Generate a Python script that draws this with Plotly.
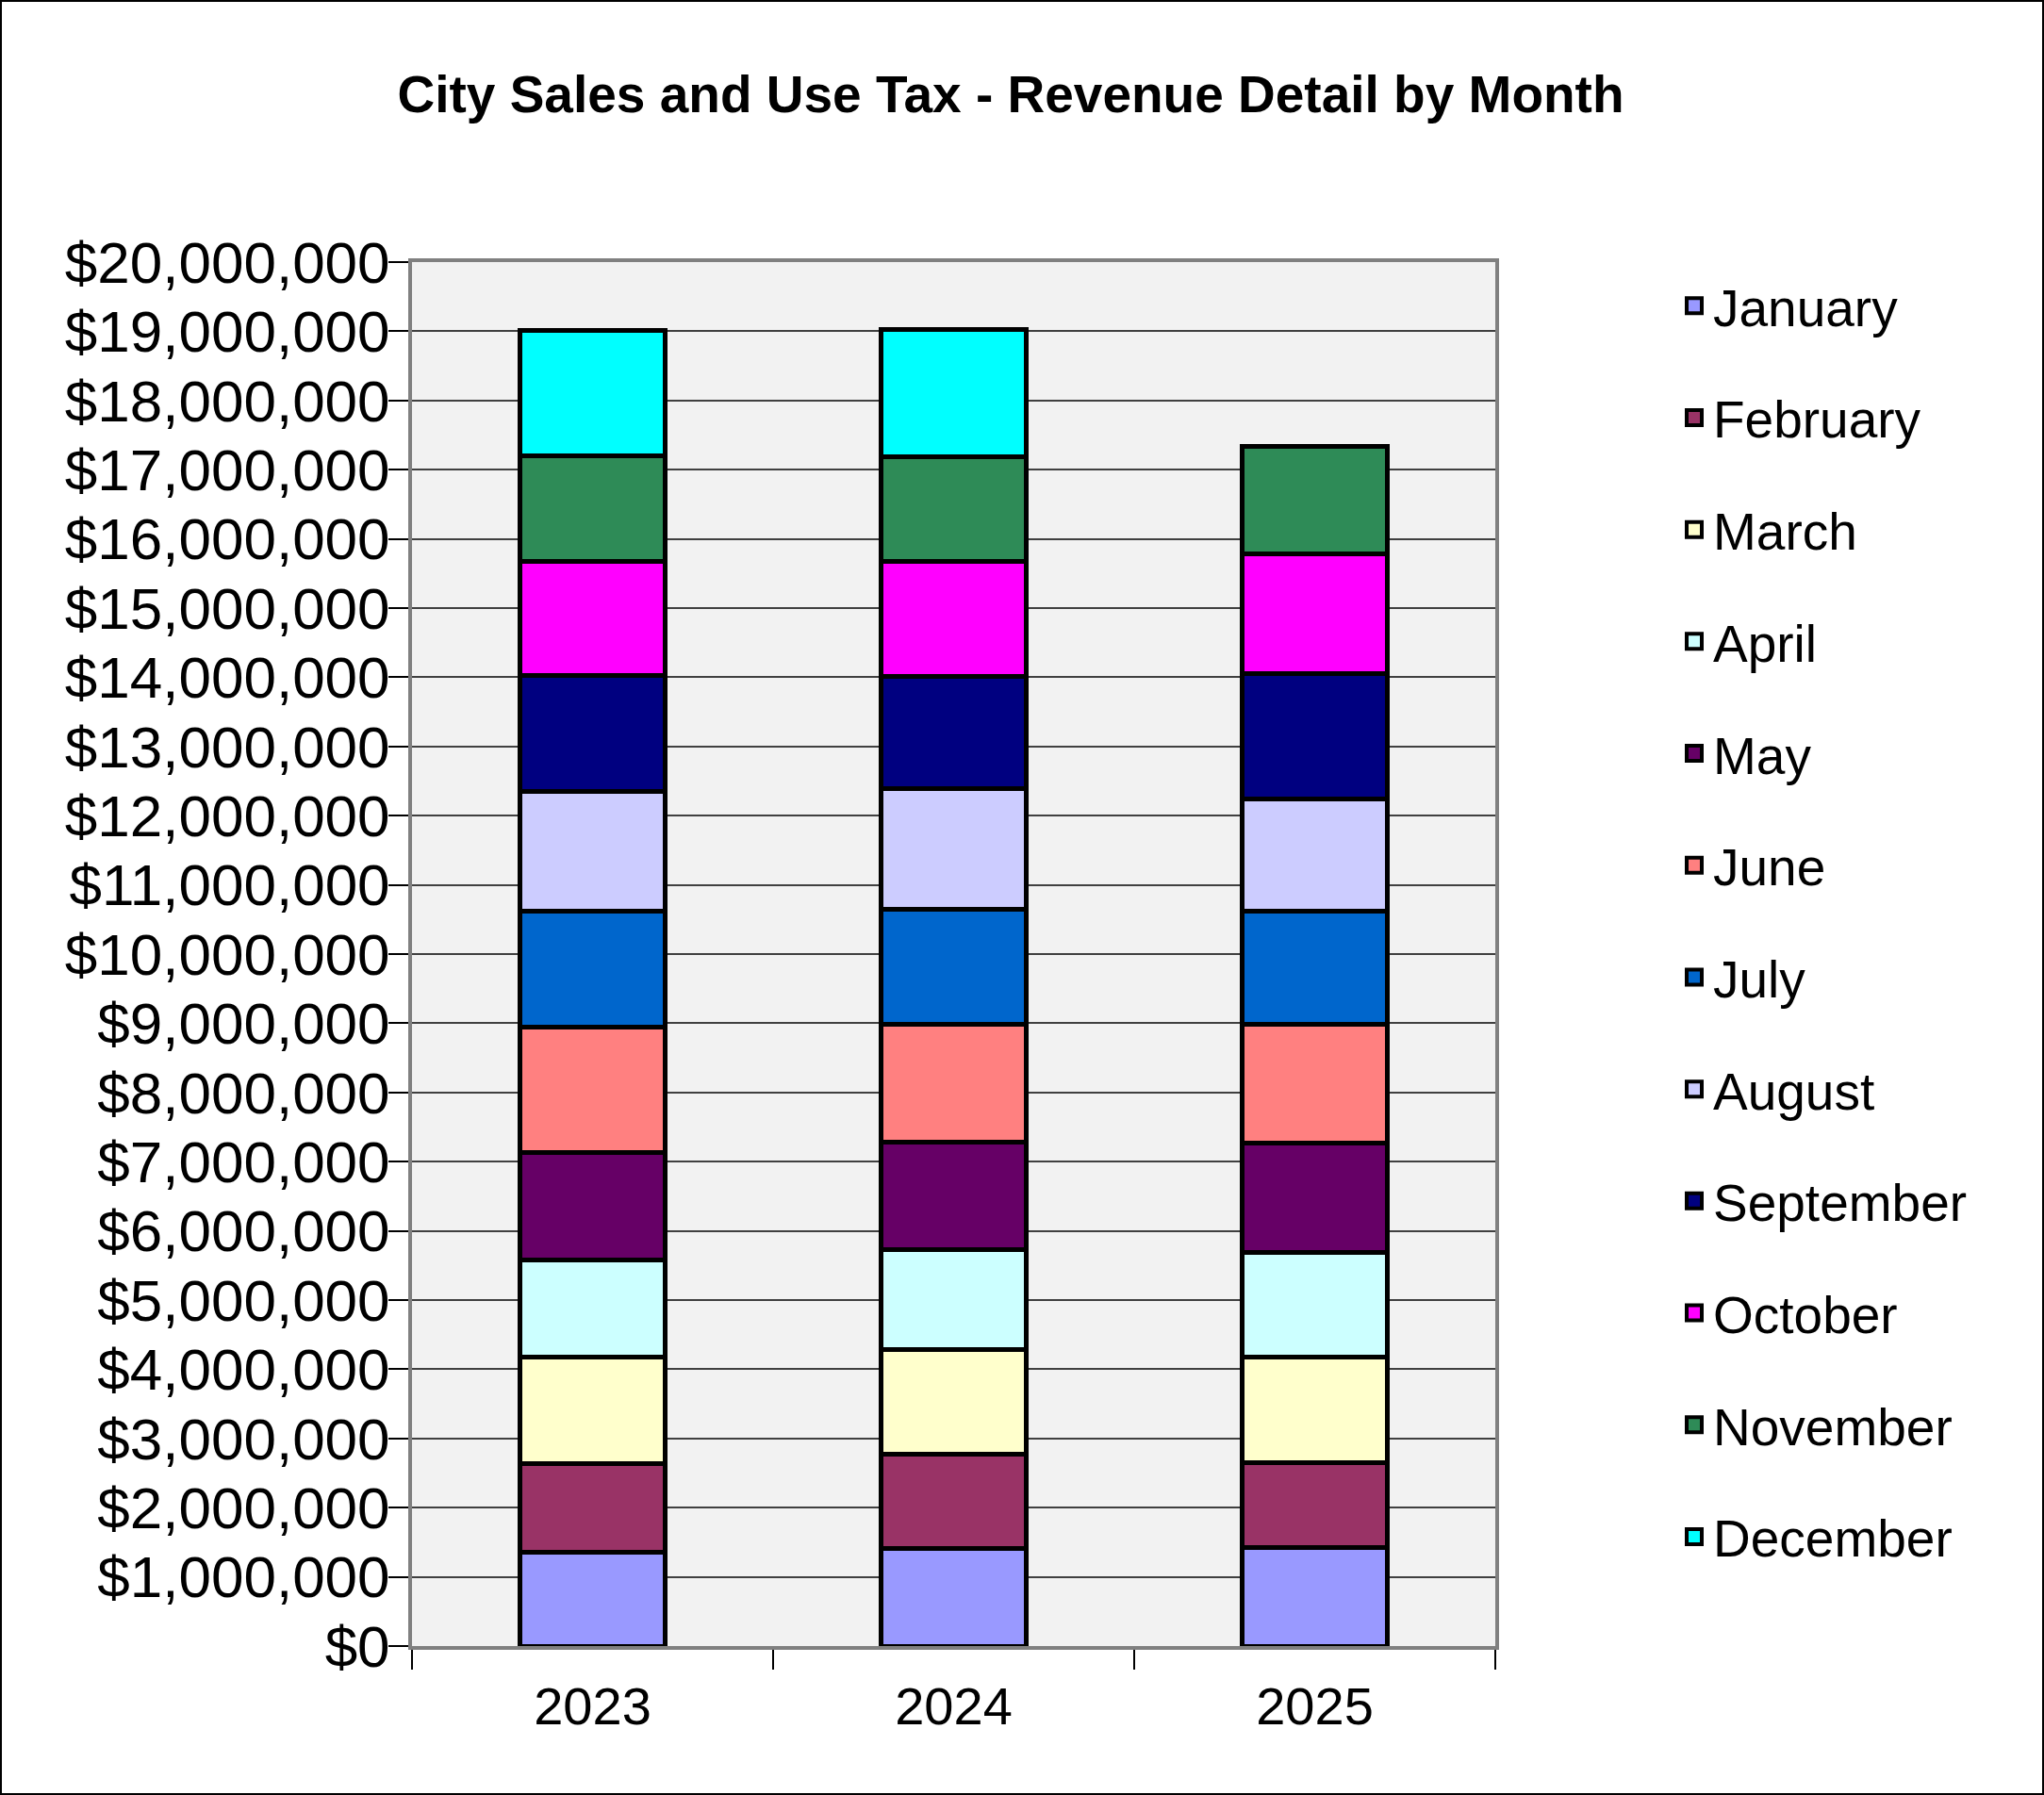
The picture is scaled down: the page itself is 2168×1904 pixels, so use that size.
import plotly.graph_objects as go

# fiscal years on the x axis
years = ["2023", "2024", "2025"]

months = ["January", "February", "March", "April", "May", "June",
          "July", "August", "September", "October", "November", "December"]

# monthly revenue per year (in dollars)
jan = [1350000, 1410000, 1420000]
feb = [1290000, 1360000, 1230000]
mar = [1530000, 1520000, 1520000]
apr = [1410000, 1440000, 1520000]
may = [1550000, 1550000, 1580000]
jun = [1810000, 1710000, 1720000]
jul = [1680000, 1660000, 1630000]
aug = [1730000, 1740000, 1620000]
sep = [1680000, 1620000, 1810000]
oct_ = [1650000, 1670000, 1730000]
nov = [1520000, 1510000, 1560000]
dec = [1810000, 1830000, None]

colors = ["#9999FF", "#993366", "#FFFFCC", "#CCFFFF", "#660066", "#FF8080",
          "#0066CC", "#CCCCFF", "#000080", "#FF00FF", "#2E8B57", "#00FFFF"]

series = [jan, feb, mar, apr, may, jun, jul, aug, sep, oct_, nov, dec]

W, H = 2168, 1904
ML, MR, MT, MB = 437, 582, 278, 158
FONT = "Liberation Sans, Arial, sans-serif"

fig = go.Figure()
for name, vals, col in zip(months, series, colors):
    fig.add_trace(go.Bar(
        x=years, y=vals, name=name, legendgroup=name, showlegend=False,
        marker=dict(color=col, line=dict(color="black", width=5)),
    ))
    # legend entry with a bigger square than the bar swatch
    fig.add_trace(go.Scatter(
        x=[None], y=[None], mode="markers", name=name, legendgroup=name,
        marker=dict(symbol="square", size=16, color=col,
                    line=dict(color="black", width=4)),
    ))

pw = W - ML - MR
ph = H - MT - MB

fig.update_layout(
    width=W, height=H,
    margin=dict(l=ML, r=MR, t=MT, b=MB),
    barmode="stack", bargap=0.6,
    paper_bgcolor="white", plot_bgcolor="#F2F2F2",
    font=dict(family=FONT, size=62, color="black"),
    title=dict(text="<b>City Sales and Use Tax - Revenue Detail by Month</b>",
               x=1072 / W, xanchor="center",
               y=1 - 100 / H, yanchor="middle", yref="container",
               font=dict(size=55)),
    legend=dict(x=(1777 - ML) / pw, xanchor="left", y=1 + (MT - 282) / ph, yanchor="top",
                traceorder="grouped", tracegroupgap=44.2,
                font=dict(size=55), bgcolor="rgba(0,0,0,0)"),
    showlegend=True,
)

fig.update_yaxes(range=[0, 20000000], dtick=1000000, tickformat="$,.0f",
                 showgrid=True, gridcolor="#404040", gridwidth=1.5,
                 ticks="outside", ticklen=21, tickcolor="black", tickwidth=2,
                 ticklabelstandoff=-14,
                 showline=True, linecolor="#808080", linewidth=4, mirror=True,
                 zeroline=False)
fig.update_xaxes(type="category", tickson="boundaries",
                 ticks="outside", ticklen=21, tickcolor="black", tickwidth=2,
                 ticklabelstandoff=12, tickfont=dict(size=56),
                 showline=True, linecolor="#808080", linewidth=4, mirror=True,
                 showgrid=False)

# thin black frame around the whole picture
fig.add_shape(type="rect", xref="paper", yref="paper",
              x0=(1 - ML) / pw, x1=(W - 1 - ML) / pw,
              y0=(1 - MB) / ph, y1=(H - 1 - MB) / ph,
              line=dict(color="black", width=2))

fig.write_html("out.html", config={"displayModeBar": False},
               post_script="document.body.style.margin='0';")
